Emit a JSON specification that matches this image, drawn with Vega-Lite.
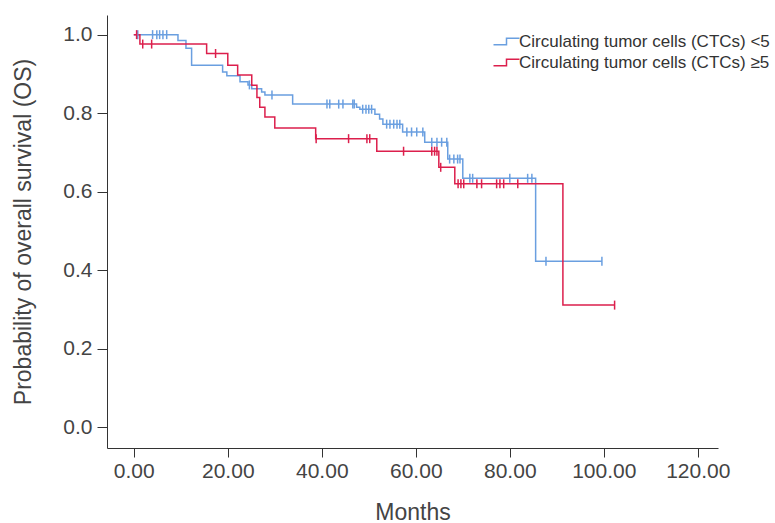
{
  "$schema": "https://vega.github.io/schema/vega-lite/v6.json",
  "width": 611,
  "height": 433,
  "autosize": {"type": "none"},
  "padding": {"left": 107, "top": 15, "right": 57, "bottom": 75},
  "background": "white",
  "config": {
    "view": {"stroke": null},
    "font": "Liberation Sans",
    "axis": {
      "grid": false,
      "domainColor": "#333333",
      "tickColor": "#333333",
      "labelColor": "#444444",
      "titleColor": "#444444",
      "labelFont": "Liberation Sans",
      "titleFont": "Liberation Sans",
      "labelFontSize": 21,
      "titleFontSize": 23,
      "titleFontWeight": "normal"
    }
  },
  "datasets": {
    "curve": [
      {"group": "<5", "month": 0, "surv": 1.0},
      {"group": "<5", "month": 9.4, "surv": 0.985},
      {"group": "<5", "month": 11.1, "surv": 0.965},
      {"group": "<5", "month": 12.3, "surv": 0.922},
      {"group": "<5", "month": 18.9, "surv": 0.905},
      {"group": "<5", "month": 19.8, "surv": 0.895},
      {"group": "<5", "month": 22.6, "surv": 0.88},
      {"group": "<5", "month": 24.3, "surv": 0.872},
      {"group": "<5", "month": 25.1, "surv": 0.862},
      {"group": "<5", "month": 27.2, "surv": 0.854},
      {"group": "<5", "month": 27.9, "surv": 0.846},
      {"group": "<5", "month": 33.8, "surv": 0.823},
      {"group": "<5", "month": 47.4, "surv": 0.815},
      {"group": "<5", "month": 48.1, "surv": 0.81},
      {"group": "<5", "month": 51.3, "surv": 0.797},
      {"group": "<5", "month": 52.3, "surv": 0.785},
      {"group": "<5", "month": 53.0, "surv": 0.772},
      {"group": "<5", "month": 57.2, "surv": 0.752},
      {"group": "<5", "month": 61.9, "surv": 0.726},
      {"group": "<5", "month": 66.8, "surv": 0.683},
      {"group": "<5", "month": 70.0, "surv": 0.634},
      {"group": "<5", "month": 85.5, "surv": 0.423},
      {"group": "<5", "month": 99.6, "surv": 0.423},
      {"group": "≥5", "month": 0, "surv": 1.0},
      {"group": "≥5", "month": 1.3, "surv": 0.976},
      {"group": "≥5", "month": 15.5, "surv": 0.952},
      {"group": "≥5", "month": 20.0, "surv": 0.922},
      {"group": "≥5", "month": 22.1, "surv": 0.897},
      {"group": "≥5", "month": 25.1, "surv": 0.871},
      {"group": "≥5", "month": 26.2, "surv": 0.84},
      {"group": "≥5", "month": 26.8, "surv": 0.815},
      {"group": "≥5", "month": 27.9, "surv": 0.79},
      {"group": "≥5", "month": 30.0, "surv": 0.762},
      {"group": "≥5", "month": 38.7, "surv": 0.735},
      {"group": "≥5", "month": 51.7, "surv": 0.703},
      {"group": "≥5", "month": 64.9, "surv": 0.662},
      {"group": "≥5", "month": 68.3, "surv": 0.62},
      {"group": "≥5", "month": 91.3, "surv": 0.311},
      {"group": "≥5", "month": 102.3, "surv": 0.311}
    ],
    "censor": [
      {"group": "<5", "month": 0.85, "surv": 1.0},
      {"group": "<5", "month": 4.0, "surv": 1.0},
      {"group": "<5", "month": 4.9, "surv": 1.0},
      {"group": "<5", "month": 5.5, "surv": 1.0},
      {"group": "<5", "month": 6.2, "surv": 1.0},
      {"group": "<5", "month": 7.0, "surv": 1.0},
      {"group": "<5", "month": 24.6, "surv": 0.872},
      {"group": "<5", "month": 29.4, "surv": 0.846},
      {"group": "<5", "month": 41.1, "surv": 0.823},
      {"group": "<5", "month": 41.7, "surv": 0.823},
      {"group": "<5", "month": 43.6, "surv": 0.823},
      {"group": "<5", "month": 44.5, "surv": 0.823},
      {"group": "<5", "month": 46.6, "surv": 0.823},
      {"group": "<5", "month": 46.9, "surv": 0.823},
      {"group": "<5", "month": 48.7, "surv": 0.81},
      {"group": "<5", "month": 49.4, "surv": 0.81},
      {"group": "<5", "month": 50.0, "surv": 0.81},
      {"group": "<5", "month": 50.6, "surv": 0.81},
      {"group": "<5", "month": 53.8, "surv": 0.772},
      {"group": "<5", "month": 54.5, "surv": 0.772},
      {"group": "<5", "month": 55.3, "surv": 0.772},
      {"group": "<5", "month": 56.0, "surv": 0.772},
      {"group": "<5", "month": 56.6, "surv": 0.772},
      {"group": "<5", "month": 58.1, "surv": 0.752},
      {"group": "<5", "month": 59.1, "surv": 0.752},
      {"group": "<5", "month": 60.2, "surv": 0.752},
      {"group": "<5", "month": 61.5, "surv": 0.752},
      {"group": "<5", "month": 63.4, "surv": 0.726},
      {"group": "<5", "month": 64.5, "surv": 0.726},
      {"group": "<5", "month": 65.5, "surv": 0.726},
      {"group": "<5", "month": 66.6, "surv": 0.726},
      {"group": "<5", "month": 67.2, "surv": 0.683},
      {"group": "<5", "month": 68.1, "surv": 0.683},
      {"group": "<5", "month": 68.9, "surv": 0.683},
      {"group": "<5", "month": 69.4, "surv": 0.683},
      {"group": "<5", "month": 71.5, "surv": 0.634},
      {"group": "<5", "month": 72.1, "surv": 0.634},
      {"group": "<5", "month": 80.0, "surv": 0.634},
      {"group": "<5", "month": 83.8, "surv": 0.634},
      {"group": "<5", "month": 84.7, "surv": 0.634},
      {"group": "<5", "month": 87.7, "surv": 0.423},
      {"group": "<5", "month": 99.6, "surv": 0.423},
      {"group": "≥5", "month": 0.6, "surv": 1.0},
      {"group": "≥5", "month": 1.9, "surv": 0.976},
      {"group": "≥5", "month": 3.8, "surv": 0.976},
      {"group": "≥5", "month": 17.4, "surv": 0.952},
      {"group": "≥5", "month": 38.8, "surv": 0.735},
      {"group": "≥5", "month": 45.7, "surv": 0.735},
      {"group": "≥5", "month": 49.6, "surv": 0.735},
      {"group": "≥5", "month": 50.2, "surv": 0.735},
      {"group": "≥5", "month": 57.4, "surv": 0.703},
      {"group": "≥5", "month": 63.4, "surv": 0.703},
      {"group": "≥5", "month": 64.0, "surv": 0.703},
      {"group": "≥5", "month": 64.5, "surv": 0.703},
      {"group": "≥5", "month": 65.3, "surv": 0.662},
      {"group": "≥5", "month": 69.0, "surv": 0.62},
      {"group": "≥5", "month": 69.6, "surv": 0.62},
      {"group": "≥5", "month": 70.2, "surv": 0.62},
      {"group": "≥5", "month": 73.0, "surv": 0.62},
      {"group": "≥5", "month": 74.0, "surv": 0.62},
      {"group": "≥5", "month": 77.2, "surv": 0.62},
      {"group": "≥5", "month": 77.9, "surv": 0.62},
      {"group": "≥5", "month": 78.7, "surv": 0.62},
      {"group": "≥5", "month": 81.7, "surv": 0.62},
      {"group": "≥5", "month": 102.3, "surv": 0.311}
    ]
  },
  "layer": [
    {
      "data": {"name": "curve"},
      "mark": {"type": "line", "interpolate": "step-after", "strokeWidth": 1.5},
      "encoding": {
        "x": {
          "field": "month",
          "type": "quantitative",
          "scale": {"domain": [-5.7, 124.3], "nice": false, "zero": false},
          "axis": {
            "values": [0, 20, 40, 60, 80, 100, 120],
            "format": ".2f",
            "tickSize": 9,
            "labelPadding": 3,
            "title": "Months",
            "titlePadding": 20
          }
        },
        "y": {
          "field": "surv",
          "type": "quantitative",
          "scale": {"domain": [-0.053, 1.05], "nice": false, "zero": false},
          "axis": {
            "values": [0, 0.2, 0.4, 0.6, 0.8, 1.0],
            "format": ".1f",
            "tickSize": 10,
            "labelPadding": 5,
            "title": "Probability of overall survival (OS)",
            "titlePadding": 27
          }
        },
        "color": {
          "field": "group",
          "type": "nominal",
          "scale": {"domain": ["<5", "≥5"], "range": ["#6a9fe0", "#dc1f4c"]},
          "legend": {
            "title": null,
            "orient": "none",
            "legendX": 391,
            "legendY": 18,
            "padding": 0,
            "symbolType": "M-2,0.5H0V-0.5H2",
            "symbolSize": 169,
            "symbolStrokeWidth": 1.5,
            "labelFontSize": 17,
            "labelColor": "#333333",
            "labelOffset": 4,
            "labelLimit": 0,
            "rowPadding": 3,
            "labelExpr": "'Circulating tumor cells (CTCs) ' + datum.label"
          }
        }
      }
    },
    {
      "data": {"name": "censor"},
      "mark": {"type": "point", "shape": "M0,-1V1", "size": 81, "strokeWidth": 1.5, "filled": false, "opacity": 1},
      "encoding": {
        "x": {"field": "month", "type": "quantitative"},
        "y": {"field": "surv", "type": "quantitative"},
        "color": {"field": "group", "type": "nominal", "legend": null}
      }
    }
  ]
}
